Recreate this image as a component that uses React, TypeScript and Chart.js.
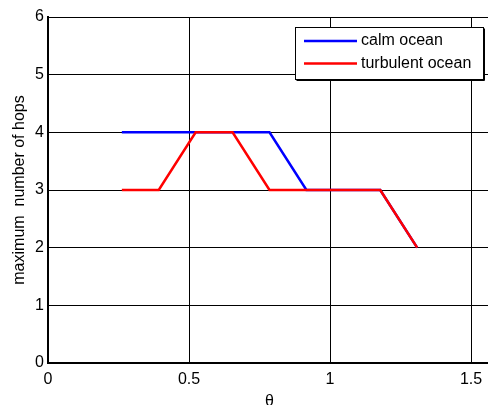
import React, { useEffect, useRef } from "react";
import { Chart, registerables } from "chart.js";

Chart.register(...registerables);

// θ sample points (radians) and series values
const thetaValues = [0.2618, 0.3927, 0.5236, 0.6545, 0.7854, 0.9163, 1.0472, 1.1781, 1.309];
const calmHops = [4, 4, 4, 4, 4, 3, 3, 3, 2];
const turbulentHops = [3, 3, 4, 4, 3, 3, 3, 3, 2];
const seriesLabels = ["calm ocean", "turbulent ocean"];
const seriesColors = ["#0000ff", "#ff0000"];
const xTickValues = [0, 0.5, 1, 1.5];
const xTickLabels = ["0", "0.5", "1", "1.5"];
const xLimits = [0, 1.5708];
const yLimits = [0, 6];
const xTitle = "θ";
const yTitle = "maximum  number of hops";

const FONT = "'Liberation Sans', Arial, sans-serif";

const boxLegend = {
  id: "boxLegend",
  afterDraw(chart: any) {
    const ctx = chart.ctx as CanvasRenderingContext2D;
    const x0 = 295, y0 = 27, w = 188, h = 52;
    ctx.save();
    ctx.fillStyle = "#ffffff";
    ctx.fillRect(x0, y0, w, h);
    ctx.strokeStyle = "#000";
    ctx.lineWidth = 1;
    ctx.strokeRect(x0 + 0.5, y0 + 0.5, w, h);
    ctx.beginPath();
    ctx.moveTo(x0 + 1.5, y0 + h + 1.5);
    ctx.lineTo(x0 + w + 1.5, y0 + h + 1.5);
    ctx.lineTo(x0 + w + 1.5, y0 + 1.5);
    ctx.stroke();
    const rows = [41, 63.5];
    chart.data.datasets.forEach((ds: any, i: number) => {
      const y = rows[i];
      ctx.strokeStyle = ds.borderColor;
      ctx.lineWidth = 2.5;
      ctx.beginPath();
      ctx.moveTo(304, y);
      ctx.lineTo(357, y);
      ctx.stroke();
      ctx.fillStyle = "#000";
      ctx.font = `16px ${FONT}`;
      ctx.textBaseline = "middle";
      ctx.textAlign = "left";
      ctx.fillText(ds.label, 361, y);
    });
    ctx.restore();
  },
};

export default function App() {
  const ref = useRef<HTMLCanvasElement | null>(null);

  useEffect(() => {
    document.body.style.margin = "0";
    if (!ref.current) return;
    const mk = (ys: number[]) => thetaValues.map((x, i) => ({ x, y: ys[i] }));
    const chart = new Chart(ref.current, {
      type: "line",
      data: {
        datasets: [
          {
            label: seriesLabels[0],
            data: mk(calmHops),
            borderColor: seriesColors[0],
            backgroundColor: seriesColors[0],
            borderWidth: 2.5,
            pointRadius: 0,
            tension: 0,
            order: 1,
          },
          {
            label: seriesLabels[1],
            data: mk(turbulentHops),
            borderColor: seriesColors[1],
            backgroundColor: seriesColors[1],
            borderWidth: 2.5,
            pointRadius: 0,
            tension: 0,
            order: 0,
          },
        ],
      },
      options: {
        animation: false,
        responsive: false,
        layout: { padding: { top: 17, left: 0, right: 5, bottom: 0 } },
        plugins: { legend: { display: false }, tooltip: { enabled: false } },
        scales: {
          x: {
            type: "linear",
            min: xLimits[0],
            max: xLimits[1],
            afterBuildTicks: (scale: any) => {
              scale.ticks = xTickValues.map((v) => ({ value: v }));
            },
            afterFit: (scale: any) => {
              scale.height = 57;
            },
            grid: { color: "#000", lineWidth: 1, drawTicks: false },
            border: { color: "#000", width: 2 },
            ticks: {
              color: "#000",
              font: { family: FONT, size: 16 },
              padding: 7,
              maxRotation: 0,
              callback: (v: any) => {
                const i = xTickValues.indexOf(Number(v));
                return i >= 0 ? xTickLabels[i] : "";
              },
            },
            title: {
              display: true,
              text: xTitle,
              color: "#000",
              font: { family: FONT, size: 16 },
              padding: { top: 0, bottom: 9 },
            },
          },
          y: {
            type: "linear",
            min: yLimits[0],
            max: yLimits[1],
            ticks: {
              stepSize: 1,
              color: "#000",
              font: { family: FONT, size: 16 },
              padding: 4,
            },
            afterFit: (scale: any) => {
              scale.width = 48;
            },
            grid: { color: "#000", lineWidth: 1, drawTicks: false },
            border: { color: "#000", width: 2 },
            title: {
              display: true,
              text: yTitle,
              color: "#000",
              font: { family: FONT, size: 16 },
              padding: { top: 10, bottom: 0 },
            },
          },
        },
      },
      plugins: [boxLegend],
    });
    return () => chart.destroy();
  }, []);

  return (
    <div style={{ position: "fixed", left: 0, top: 0, width: 488, height: 405, overflow: "hidden", background: "#fff" }}>
      <canvas ref={ref} width={496} height={420} style={{ width: 496, height: 420, display: "block" }} />
    </div>
  );
}
